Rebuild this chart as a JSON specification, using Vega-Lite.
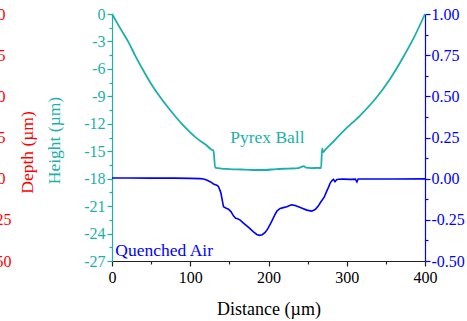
{
  "$schema": "https://vega.github.io/schema/vega-lite/v6.json",
  "width": 313,
  "height": 247,
  "autosize": {"type": "none"},
  "padding": {"left": 112, "top": 14, "right": 42, "bottom": 60},
  "config": {
    "view": {"stroke": null},
    "font": "Liberation Serif",
    "axis": {
      "grid": false,
      "labelFont": "Liberation Serif",
      "titleFont": "Liberation Serif",
      "labelFontSize": 16,
      "titleFontSize": 17.5,
      "titleFontWeight": "normal",
      "domainWidth": 1.2,
      "tickWidth": 1.2,
      "labelFlush": false,
      "labelOverlap": false
    }
  },
  "datasets": {
    "pyrex": [
      {"Distance": 0, "Height": 0},
      {"Distance": 10.6, "Height": -1.57},
      {"Distance": 21.2, "Height": -3.1},
      {"Distance": 29.8, "Height": -4.57},
      {"Distance": 39.5, "Height": -6.1},
      {"Distance": 49.7, "Height": -7.6},
      {"Distance": 61.7, "Height": -9.1},
      {"Distance": 75.3, "Height": -10.6},
      {"Distance": 90.2, "Height": -12.1},
      {"Distance": 108.5, "Height": -13.6},
      {"Distance": 120, "Height": -14.3},
      {"Distance": 126.8, "Height": -14.8},
      {"Distance": 129.7, "Height": -14.95},
      {"Distance": 131.9, "Height": -16.8},
      {"Distance": 140, "Height": -16.9},
      {"Distance": 150, "Height": -16.95},
      {"Distance": 165, "Height": -17.0},
      {"Distance": 180, "Height": -17.05},
      {"Distance": 195, "Height": -17.05},
      {"Distance": 210, "Height": -16.95},
      {"Distance": 225, "Height": -16.9},
      {"Distance": 238, "Height": -16.85},
      {"Distance": 242, "Height": -16.72},
      {"Distance": 245, "Height": -16.62},
      {"Distance": 248, "Height": -16.8},
      {"Distance": 255, "Height": -16.85},
      {"Distance": 263, "Height": -16.82},
      {"Distance": 267.2, "Height": -16.85},
      {"Distance": 268.5, "Height": -14.7},
      {"Distance": 270, "Height": -15.1},
      {"Distance": 271.5, "Height": -14.95},
      {"Distance": 280, "Height": -14.2},
      {"Distance": 295.7, "Height": -12.8},
      {"Distance": 317, "Height": -11.1},
      {"Distance": 338.3, "Height": -9.1},
      {"Distance": 355.3, "Height": -7.1},
      {"Distance": 372.3, "Height": -4.7},
      {"Distance": 385.1, "Height": -2.7},
      {"Distance": 400, "Height": 0}
    ],
    "quenched": [
      {"Distance": 0, "Value": 0.004},
      {"Distance": 20, "Value": 0.004},
      {"Distance": 50, "Value": 0.003},
      {"Distance": 80, "Value": 0.003},
      {"Distance": 100, "Value": 0.002},
      {"Distance": 112.7, "Value": 0.0},
      {"Distance": 117, "Value": -0.002},
      {"Distance": 121, "Value": -0.008},
      {"Distance": 126, "Value": -0.02},
      {"Distance": 129.7, "Value": -0.032},
      {"Distance": 134, "Value": -0.04},
      {"Distance": 136, "Value": -0.047},
      {"Distance": 139, "Value": -0.083},
      {"Distance": 142.5, "Value": -0.171},
      {"Distance": 146, "Value": -0.18},
      {"Distance": 148.9, "Value": -0.185},
      {"Distance": 152, "Value": -0.2},
      {"Distance": 155.2, "Value": -0.226},
      {"Distance": 158, "Value": -0.24},
      {"Distance": 160, "Value": -0.242},
      {"Distance": 163.8, "Value": -0.252},
      {"Distance": 168, "Value": -0.27},
      {"Distance": 172.3, "Value": -0.287},
      {"Distance": 176, "Value": -0.302},
      {"Distance": 180.8, "Value": -0.323},
      {"Distance": 185, "Value": -0.339},
      {"Distance": 188.5, "Value": -0.344},
      {"Distance": 192, "Value": -0.34},
      {"Distance": 195.7, "Value": -0.327},
      {"Distance": 199, "Value": -0.305},
      {"Distance": 202.1, "Value": -0.277},
      {"Distance": 205, "Value": -0.25},
      {"Distance": 208.5, "Value": -0.216},
      {"Distance": 211, "Value": -0.195},
      {"Distance": 214.9, "Value": -0.181},
      {"Distance": 219, "Value": -0.176},
      {"Distance": 223.4, "Value": -0.171},
      {"Distance": 227, "Value": -0.163},
      {"Distance": 229.8, "Value": -0.159},
      {"Distance": 234, "Value": -0.163},
      {"Distance": 238.3, "Value": -0.171},
      {"Distance": 243, "Value": -0.18},
      {"Distance": 249, "Value": -0.191},
      {"Distance": 255.3, "Value": -0.197},
      {"Distance": 260, "Value": -0.186},
      {"Distance": 263.8, "Value": -0.165},
      {"Distance": 267, "Value": -0.14},
      {"Distance": 271, "Value": -0.114},
      {"Distance": 274, "Value": -0.08},
      {"Distance": 276.6, "Value": -0.053},
      {"Distance": 279, "Value": -0.025},
      {"Distance": 281.7, "Value": -0.008},
      {"Distance": 283, "Value": -0.004},
      {"Distance": 285, "Value": -0.018},
      {"Distance": 287, "Value": -0.006},
      {"Distance": 289.3, "Value": -0.004},
      {"Distance": 295, "Value": -0.003},
      {"Distance": 305, "Value": -0.004},
      {"Distance": 311, "Value": -0.003},
      {"Distance": 313, "Value": -0.02},
      {"Distance": 314.5, "Value": -0.002},
      {"Distance": 330, "Value": -0.002},
      {"Distance": 360, "Value": -0.002},
      {"Distance": 400, "Value": -0.001}
    ]
  },
  "encoding": {
    "x": {
      "field": "Distance",
      "type": "quantitative",
      "scale": {"domain": [0, 400], "nice": false, "zero": false},
      "axis": {
        "title": "Distance (µm)",
        "titleFontSize": 18,
        "values": [0, 50, 100, 150, 200, 250, 300, 350, 400],
        "format": "d",
        "labelOverlap": false,
        "labelExpr": "datum.value % 100 === 0 ? datum.label : ''",
        "tickSize": {"condition": {"test": "datum.value % 100 !== 0", "value": 3}, "value": 5},
        "domainColor": "#222222",
        "tickColor": "#222222",
        "labelColor": "#000000",
        "titleColor": "#000000",
        "labelPadding": 3,
        "titlePadding": 15
      }
    }
  },
  "layer": [
    {
      "data": {"name": "pyrex"},
      "mark": {"type": "line", "color": "#1BB0A9", "strokeWidth": 1.8, "interpolate": "monotone"},
      "encoding": {
        "y": {
          "field": "Height",
          "type": "quantitative",
          "scale": {"domain": [-27, 0], "nice": false, "zero": false},
          "axis": {
            "orient": "left",
            "title": "Height (µm)",
            "values": [0, -1.5, -3, -4.5, -6, -7.5, -9, -10.5, -12, -13.5, -15, -16.5, -18, -19.5, -21, -22.5, -24, -25.5, -27],
            "format": ".1f",
            "labelOverlap": false,
            "labelExpr": "abs(datum.value % 3) < 0.01 ? replace(format(datum.value, 'd'), '−', '-') : ''",
            "tickSize": {"condition": {"test": "abs(datum.value % 3) > 0.01", "value": 3}, "value": 5},
            "labelPadding": 2,
            "domainColor": "#1BB0A9",
            "tickColor": "#1BB0A9",
            "labelColor": "#1BB0A9",
            "titleColor": "#1BB0A9",
            "titleAngle": -90,
            "titleAlign": "center",
            "titleBaseline": "middle",
            "titleX": -58,
            "titleY": 126
          }
        }
      }
    },
    {
      "data": {"name": "quenched"},
      "mark": {"type": "line", "color": "#0000FF", "strokeWidth": 1.6},
      "encoding": {
        "y": {
          "field": "Value",
          "type": "quantitative",
          "scale": {"domain": [-0.5, 1], "nice": false, "zero": false},
          "axis": {
            "orient": "right",
            "title": null,
            "values": [1, 0.875, 0.75, 0.625, 0.5, 0.375, 0.25, 0.125, 0, -0.125, -0.25, -0.375, -0.5],
            "format": ".3f",
            "labelOverlap": false,
            "labelExpr": "abs((datum.value * 4) % 1) < 0.01 ? replace(format(datum.value, '.2f'), '−', '-') : ''",
            "tickSize": {"condition": {"test": "abs((datum.value * 4) % 1) > 0.01", "value": 3}, "value": 5},
            "labelPadding": 1,
            "domainColor": "#0000FF",
            "tickColor": "#0000FF",
            "labelColor": "#0000FF"
          }
        }
      }
    },
    {
      "data": {"values": [{"Distance": 0, "Depth": 0}, {"Distance": 0, "Depth": -150}]},
      "mark": {"type": "point", "opacity": 0},
      "encoding": {
        "y": {
          "field": "Depth",
          "type": "quantitative",
          "scale": {"domain": [-150, 0], "nice": false, "zero": false},
          "axis": {
            "orient": "left",
            "offset": 98,
            "title": "Depth (µm)",
            "values": [0, -25, -50, -75, -100, -125, -150],
            "format": "d",
            "labelOverlap": false,
            "labelExpr": "replace(datum.label, '−', '-')",
            "domain": false,
            "ticks": false,
            "labelPadding": {"condition": {"test": "datum.value < -110", "value": 3}, "value": 9},
            "labelColor": "#FF0000",
            "titleColor": "#FF0000",
            "titleAngle": -90,
            "titleAlign": "center",
            "titleBaseline": "middle",
            "titleX": 13,
            "titleY": 138
          }
        }
      }
    },
    {
      "data": {"values": [{"Distance": 198.6, "Height": -13.5, "label": "Pyrex Ball"}]},
      "mark": {"type": "text", "color": "#1BB0A9", "fontSize": 17.5, "font": "Liberation Serif", "align": "center", "baseline": "middle"},
      "encoding": {
        "y": {"field": "Height", "type": "quantitative", "scale": {"domain": [-27, 0], "nice": false, "zero": false}, "axis": null},
        "text": {"field": "label"}
      }
    },
    {
      "data": {"values": [{"Distance": 4.2, "Value": -0.44, "label": "Quenched Air"}]},
      "mark": {"type": "text", "color": "#0000FF", "fontSize": 17.5, "font": "Liberation Serif", "align": "left", "baseline": "middle"},
      "encoding": {
        "y": {"field": "Value", "type": "quantitative", "scale": {"domain": [-0.5, 1], "nice": false, "zero": false}, "axis": null},
        "text": {"field": "label"}
      }
    }
  ],
  "resolve": {"scale": {"y": "independent"}, "axis": {"y": "independent"}}
}
